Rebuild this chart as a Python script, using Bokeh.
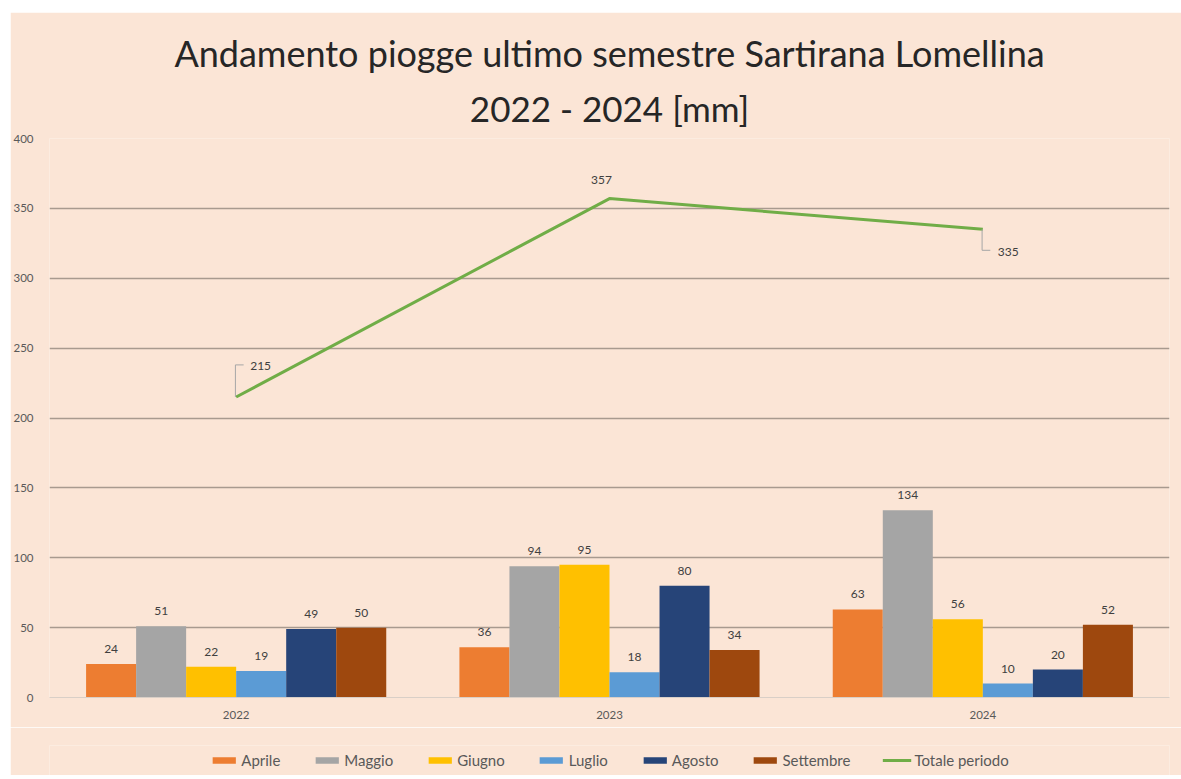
from bokeh.plotting import figure
from bokeh.layouts import column
from bokeh.models import ColumnDataSource, FactorRange, Legend, LegendItem, Title, Range1d, SingleIntervalTicker
from bokeh.transform import dodge
from bokeh.core.properties import value
from bokeh.embed import file_html
from bokeh.resources import INLINE

years = ["2022", "2023", "2024"]
months = ["Aprile", "Maggio", "Giugno", "Luglio", "Agosto", "Settembre"]
aprile = [24, 36, 63]
maggio = [51, 94, 134]
giugno = [22, 95, 56]
luglio = [19, 18, 10]
agosto = [49, 80, 20]
settembre = [50, 34, 52]
totale = [215, 357, 335]
series = [aprile, maggio, giugno, luglio, agosto, settembre]
colors = ["#ED7D31", "#A5A5A5", "#FFC000", "#5B9BD5", "#264478", "#9E480E"]
line_color = "#70AD47"
bg = "#FBE5D6"
FONT = "Lato"

p = figure(frame_width=1120, frame_height=559, x_range=FactorRange(*years, range_padding=0),
           y_range=Range1d(0, 400), output_backend="svg", toolbar_location=None,
           background_fill_color=bg, border_fill_color=bg, margin=(12, 0, 0, 10),
           min_border_left=38, min_border_right=13, min_border_top=126, min_border_bottom=30)
p.outline_line_color = None

t2 = Title(text="2022 - 2024 [mm]", align="center", text_font=FONT, text_font_size="35px",
           text_font_style="normal", text_color="#262626", standoff=20)
t1 = Title(text="Andamento piogge ultimo semestre Sartirana Lomellina", align="center",
           text_font=FONT, text_font_size="36px", text_font_style="normal", text_color="#262626", standoff=0)
p.add_layout(t2, "above")
p.add_layout(t1, "above")

bw = 0.134
offsets = [(i - 2.5) * bw for i in range(6)]
for name, vals, col, off in zip(months, series, colors, offsets):
    src = ColumnDataSource(dict(x=years, y=vals, lab=[str(v) for v in vals]))
    p.vbar(x=dodge("x", off, range=p.x_range), top="y", width=bw, source=src,
           fill_color=col, line_color=None)
    p.text(x=dodge("x", off, range=p.x_range), y="y", text="lab", source=src,
           text_align="center", text_baseline="bottom", y_offset=-11,
           text_font=value(FONT), text_font_size="12px", text_color="#404040")

lsrc = ColumnDataSource(dict(x=years, y=totale, lab=[str(v) for v in totale],
                             xo=[14, -8, 15], yo=[-31, -19, 23],
                             al=["left", "center", "left"]))
p.line(x="x", y="y", source=lsrc, line_color=line_color, line_width=3)
p.text(x="x", y="y", text="lab", source=lsrc, x_offset="xo", y_offset="yo",
       text_align="al", text_baseline="middle",
       text_font=value(FONT), text_font_size="12px", text_color="#404040")

# leader lines for the offset labels
lead = ColumnDataSource(dict(x=[years[0], years[2]], y0=[totale[0], totale[2]],
                             y1=[totale[0] + 23, totale[2] - 15]))
p.segment(x0=dodge("x", -0.002, range=p.x_range), y0="y0",
          x1=dodge("x", -0.002, range=p.x_range), y1="y1", source=lead,
          line_color="#a6a6a6", line_width=1)
p.segment(x0=dodge("x", -0.002, range=p.x_range), y0="y1",
          x1=dodge("x", 0.02, range=p.x_range), y1="y1", source=lead,
          line_color="#a6a6a6", line_width=1)

p.xgrid.grid_line_color = None
p.ygrid.grid_line_color = "#A89A8F"
p.ygrid.grid_line_width = 1.6
p.yaxis.ticker = SingleIntervalTicker(interval=50)
p.yaxis.axis_line_color = None
p.yaxis.major_tick_line_color = None
p.yaxis.minor_tick_line_color = None
p.yaxis.major_tick_out = 0
p.yaxis.major_tick_in = 0
p.yaxis.major_label_text_font = FONT
p.yaxis.major_label_text_font_size = "11.5px"
p.yaxis.major_label_text_color = "#595959"
p.yaxis.major_label_standoff = 12
p.xaxis.axis_line_color = "#D9CFC7"
p.xaxis.major_tick_line_color = None
p.xaxis.minor_tick_line_color = None
p.xaxis.major_tick_out = 0
p.xaxis.major_tick_in = 0
p.xaxis.major_label_text_font = FONT
p.xaxis.major_label_text_font_size = "11.5px"
p.xaxis.major_label_text_color = "#595959"
p.xaxis.major_label_standoff = 13

# legend strip (separate figure so it sits just below the axis)
q = figure(frame_width=1120, frame_height=30, x_range=Range1d(0, 1), y_range=Range1d(0, 1),
           output_backend="svg", toolbar_location=None,
           background_fill_color=bg, border_fill_color=bg,
           margin=(0, 0, 0, 10),
           min_border_left=38, min_border_right=13, min_border_top=18, min_border_bottom=0)
q.outline_line_color = None
q.axis.visible = False
q.grid.visible = False
nan = float("nan")
items = []
for name, col in zip(months, colors):
    r = q.vbar(x=[nan], top=[nan], width=0.1, fill_color=col, line_color=None)
    items.append(LegendItem(label=name, renderers=[r]))
rl = q.line(x=[nan, nan], y=[nan, nan], line_color=line_color, line_width=3)
items.append(LegendItem(label="Totale periodo", renderers=[rl]))
legend = Legend(items=items, orientation="horizontal", location="center",
                background_fill_alpha=0, border_line_color=None,
                label_text_font=FONT, label_text_font_size="15px", label_text_color="#595959",
                glyph_width=29, glyph_height=8, spacing=32, label_standoff=3,
                margin=0, padding=2)
q.add_layout(legend, "center")

layout = column(p, q, spacing=0)
open("out.html", "w").write(file_html(layout, INLINE))
